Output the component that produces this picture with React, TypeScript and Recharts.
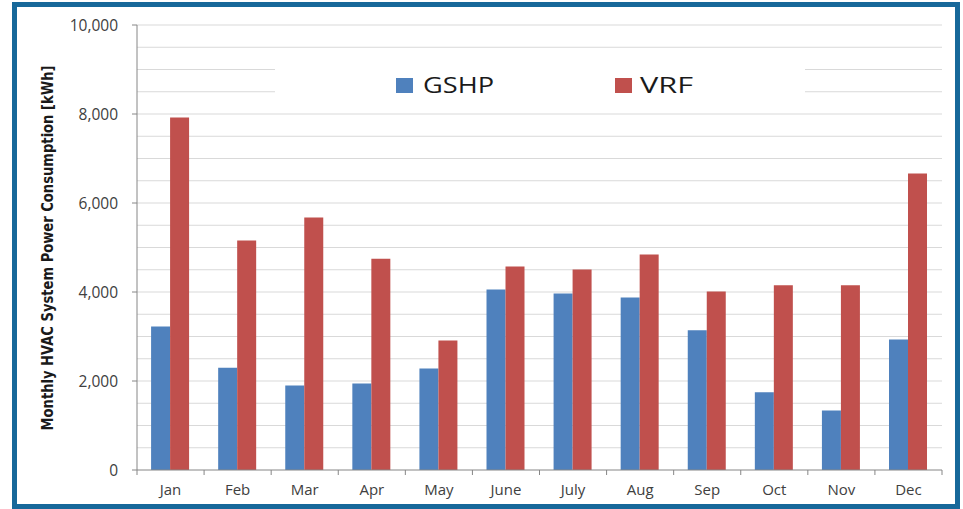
import React from "react";
import { BarChart, Bar, XAxis, YAxis, CartesianGrid, Legend, Label } from "recharts";

const months = ["Jan", "Feb", "Mar", "Apr", "May", "June", "July", "Aug", "Sep", "Oct", "Nov", "Dec"];
const gshp = [3225, 2300, 1900, 1945, 2280, 4055, 3965, 3875, 3140, 1750, 1335, 2930];
const vrf = [7920, 5155, 5675, 4750, 2910, 4575, 4505, 4840, 4010, 4150, 4150, 6665];
const yTicks = [0, 2000, 4000, 6000, 8000, 10000];
const gridValues = [500, 1000, 1500, 2000, 2500, 3000, 3500, 4000, 4500, 5000, 5500, 6000, 6500, 7000, 7500, 8000, 8500, 9000, 9500, 10000];

const data = months.map((m, i) => ({ month: m, GSHP: gshp[i], VRF: vrf[i] }));

const W = 963;
const H = 509;
const PLOT_LEFT = 137;
const PLOT_RIGHT = 942;
const HALF_BAND = (PLOT_RIGHT - PLOT_LEFT) / months.length / 2;
const FONT = "'Open Sans', 'DejaVu Sans', sans-serif";

const MonthTick = (props: any) => {
  const { x, y, payload, index } = props;
  const last = index === months.length - 1;
  return (
    <g>
      <line x1={x - HALF_BAND} x2={x - HALF_BAND} y1={y} y2={y + 5} stroke="#868686" />
      {last && <line x1={x + HALF_BAND} x2={x + HALF_BAND} y1={y} y2={y + 5} stroke="#868686" />}
      <text x={x} y={y + 25} textAnchor="middle" fontSize={15} fill="#404040" fontFamily={FONT}>
        {payload.value}
      </text>
    </g>
  );
};

const renderLegend = (props: any) => {
  const items = props.payload || [];
  const pos = [
    { sq: 121, tx: 148, len: 71 },
    { sq: 340, tx: 365, len: 53 },
  ];
  return (
    <svg width={530} height={56}>
      {items.map((it: any, i: number) => (
        <g key={it.value}>
          <rect x={pos[i].sq} y={26} width={17} height={15} fill={it.color} />
          <text x={pos[i].tx} y={41} fontSize={22} fill="#1a1a1a" fontFamily={FONT} textLength={pos[i].len} lengthAdjust="spacingAndGlyphs">
            {it.value}
          </text>
        </g>
      ))}
    </svg>
  );
};

export default function App() {
  return (
    <div style={{ position: "absolute", left: 0, top: 0, width: W, height: H, background: "#fff" }}>
      <div
        style={{
          position: "absolute",
          left: 12,
          top: 2,
          width: 948,
          height: 507,
          border: "5px solid #17689a",
          boxSizing: "border-box",
        }}
      />
      <div style={{ position: "absolute", left: 0, top: 0 }}>
        <BarChart
          width={W}
          height={H}
          data={data}
          margin={{ top: 25, right: W - PLOT_RIGHT, bottom: 1, left: 67 }}
          barCategoryGap="21%"
          barGap={0}
        >
          <CartesianGrid horizontal vertical={false} stroke="#d9d9d9" horizontalValues={gridValues} />
          <XAxis
            dataKey="month"
            height={38}
            axisLine={{ stroke: "#868686" }}
            tickLine={false}
            tickSize={0}
            tickMargin={0}
            interval={0}
            tick={<MonthTick />}
          />
          <YAxis
            width={70}
            domain={[0, 10000]}
            ticks={yTicks}
            interval={0}
            axisLine={{ stroke: "#868686" }}
            tickLine={{ stroke: "#868686" }}
            tickSize={5}
            tickMargin={14}
            tick={{ fontSize: 15.5, fill: "#404040", fontFamily: FONT }}
            tickFormatter={(v: number) => v.toLocaleString("en-US")}
          >
            <Label
              content={() => (
                <text
                  x={53}
                  y={248}
                  transform="rotate(-90 53 248)"
                  textAnchor="middle"
                  fontSize={15}
                  fontWeight="bold"
                  fill="#1a1a1a"
                  fontFamily="'Liberation Sans Narrow', 'DejaVu Sans Condensed', sans-serif"
                  textLength={365}
                  lengthAdjust="spacingAndGlyphs"
                >
                  Monthly HVAC System Power Consumption [kWh]
                </text>
              )}
            />
          </YAxis>
          <Legend
            layout="horizontal"
            verticalAlign="middle"
            align="center"
            content={renderLegend}
            wrapperStyle={{ position: "absolute", left: 275, top: 52, width: 530, height: 56, background: "#fff" }}
          />
          <Bar dataKey="GSHP" fill="#4f81bd" isAnimationActive={false} />
          <Bar dataKey="VRF" fill="#c0504d" isAnimationActive={false} />
        </BarChart>
      </div>
    </div>
  );
}
